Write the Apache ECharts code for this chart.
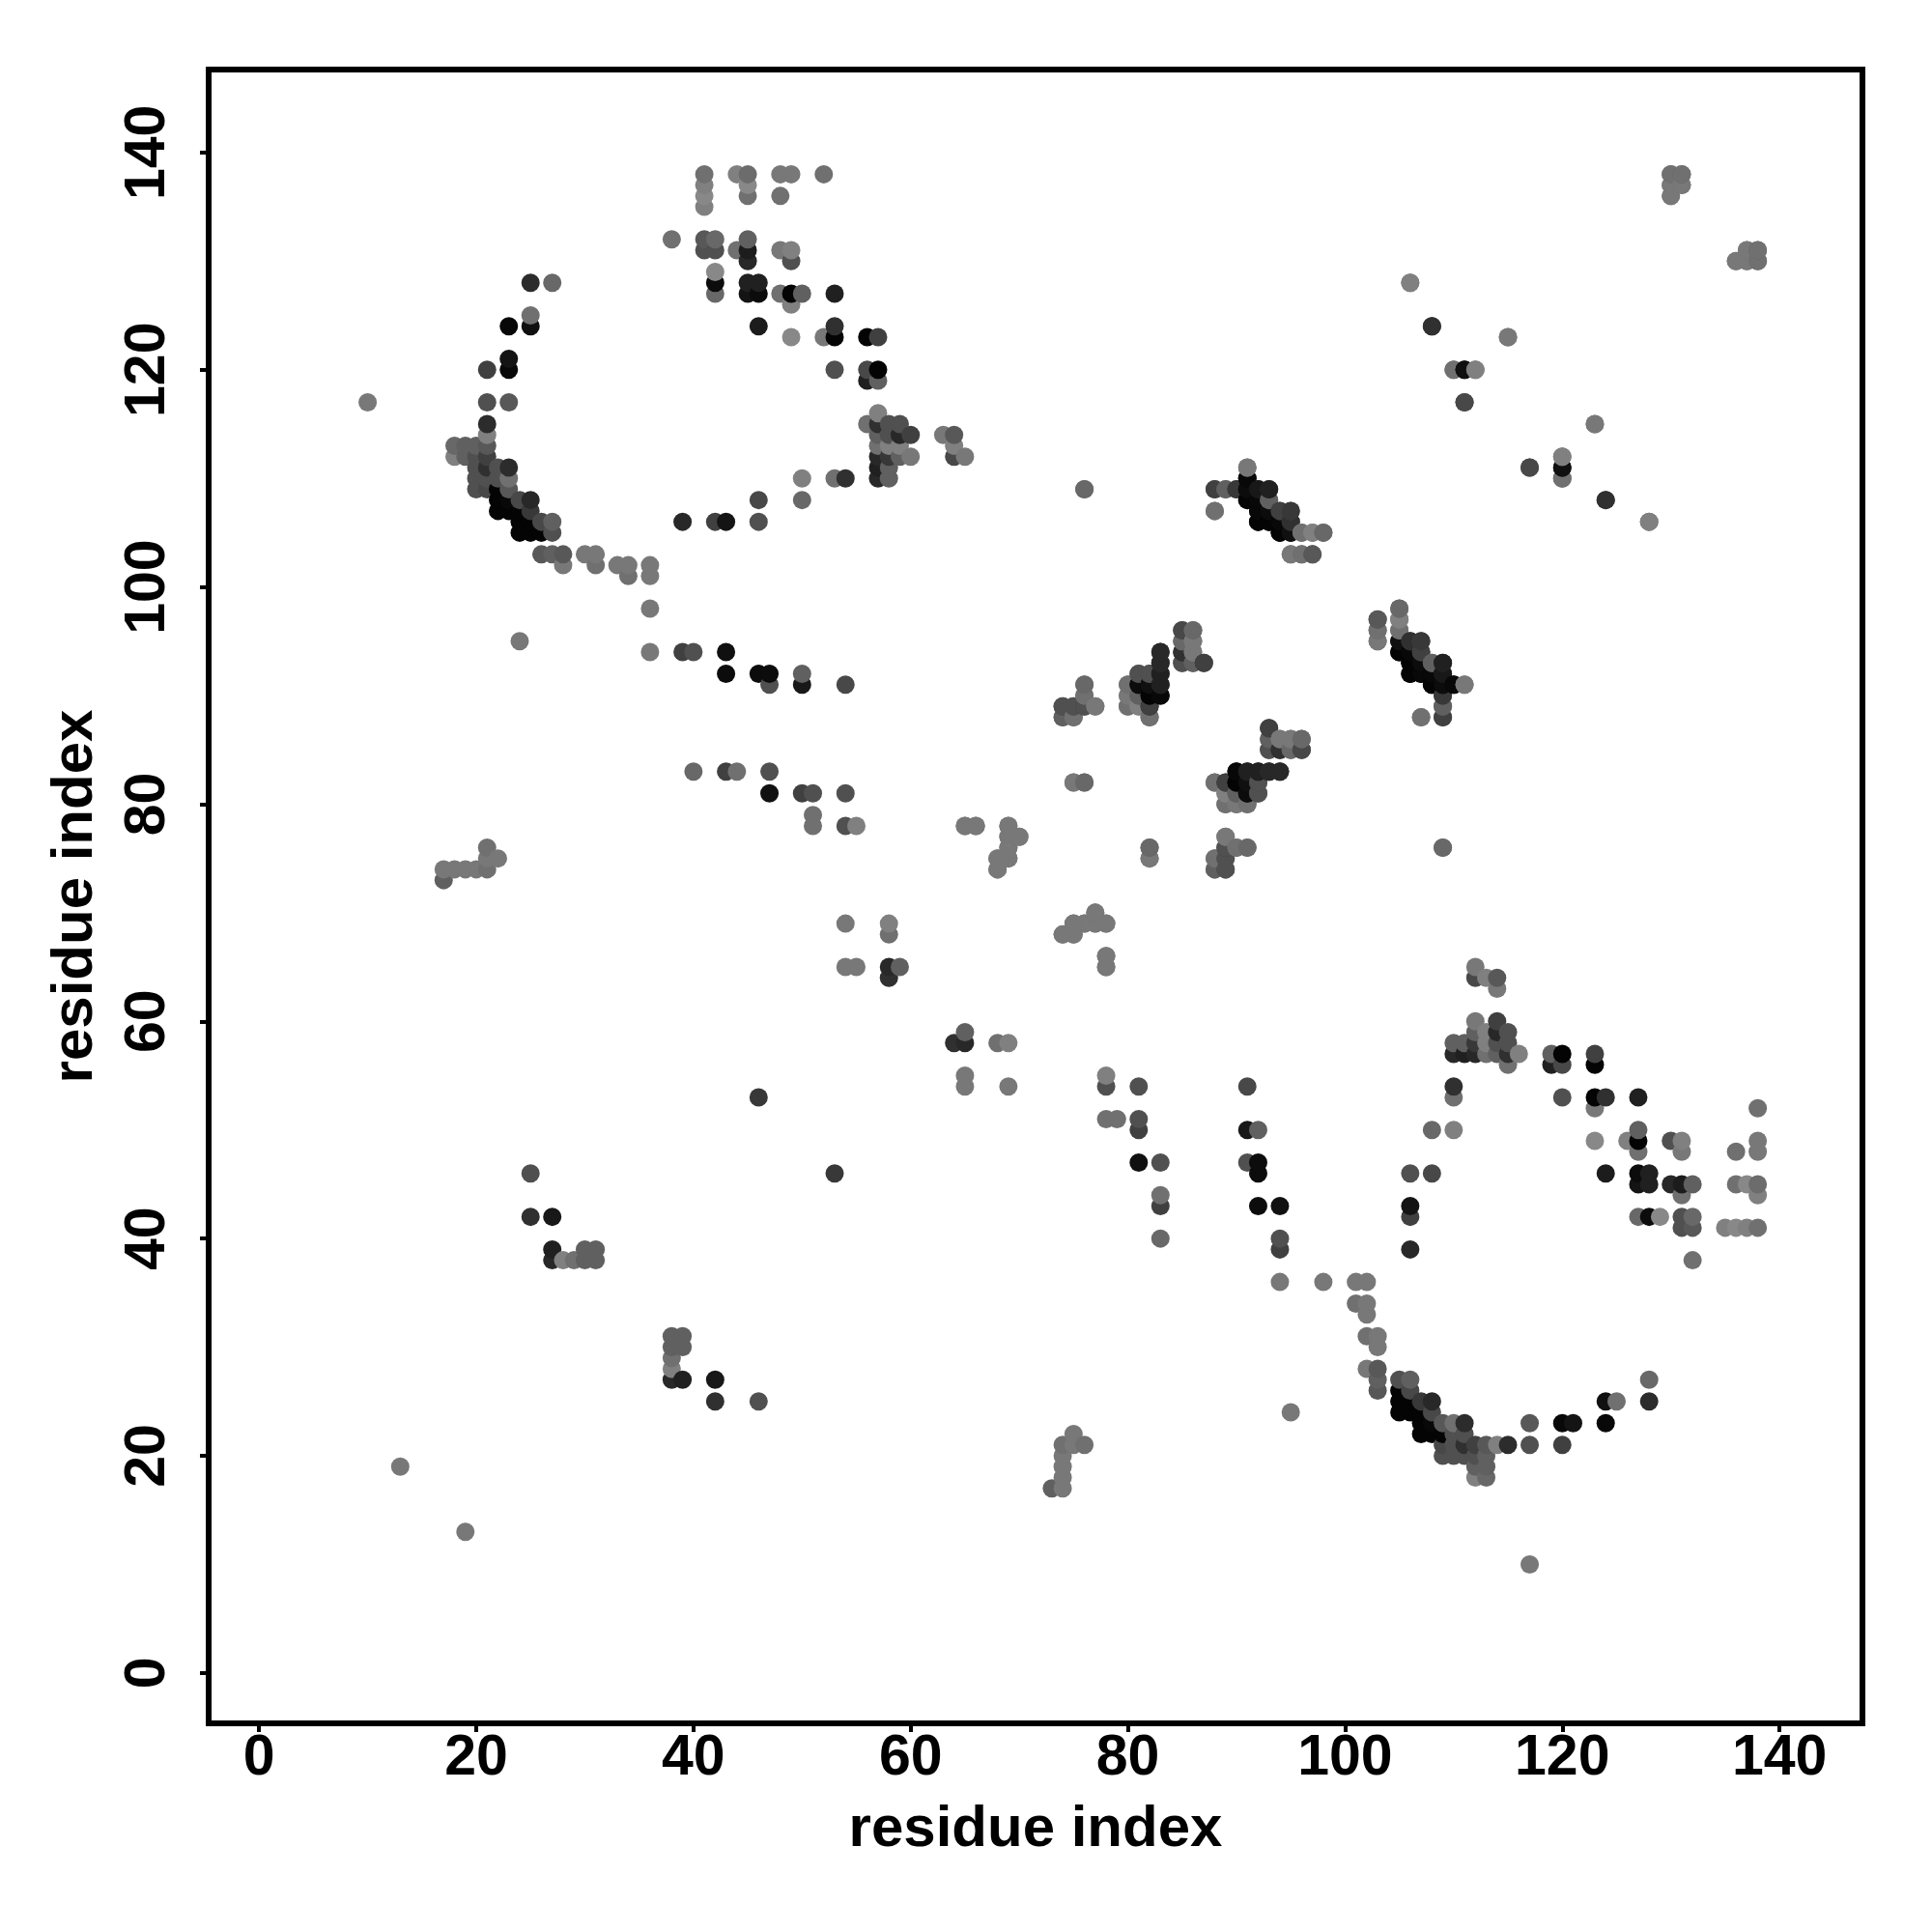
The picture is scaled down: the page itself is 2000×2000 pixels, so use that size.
<!DOCTYPE html>
<html>
<head>
<meta charset="utf-8">
<style>html,body{margin:0;padding:0;background:#fff}#c{width:2000px;height:2000px}</style>
<script src="https://cdn.jsdelivr.net/npm/echarts@6/dist/echarts.min.js"></script>
</head>
<body>
<div id="c"></div>
<script>
// Contacts [i, j, grey level]; the map is symmetric, each contact appears at (i,j) and (j,i).
const axisTicks = [0, 20, 40, 60, 80, 100, 120, 140];
const axisTitle = 'residue index';

const contactsTopArc = [
 [41,138,112],[41,137,128],[41,136,136],[41,135,128],[44,138,128],[45,138,108],[45,137,136],[45,136,112],
 [48,138,120],[49,138,120],[52,138,112],[48,136,112],[38,132,112],[41,132,88],[42,132,104],[45,132,96],
 [41,131,80],[42,131,80],[44,131,112],[45,131,28],[48,131,120],[49,131,128],[45,130,40],[49,130,80],
 [42,129,136],[42,128,12],[45,128,32],[46,128,32],[42,127,104],[45,127,20],[46,127,12],[48,127,112],
 [49,127,4],[50,127,96],[53,127,32],[49,126,128],[46,124,28],[53,124,48],[49,123,136],[52,123,120],
 [53,123,4],[56,123,4],[57,123,64],[53,120,80],[56,120,72],[57,120,4],[56,119,32],[57,119,96]
];
const contactsLeftArc = [
 [25,128,44],[27,128,104],[25,125,112],[23,124,8],[25,124,16],[23,121,20],[21,120,64],[23,120,8],
 [10,117,120],[21,117,80],[23,117,88],[21,115,44],[21,114,128],[18,113,104],[19,113,96],[20,113,96],[21,113,88],
 [18,112,128],[19,112,96],[20,112,80],[21,112,64],[20,111,80],[21,111,48],[22,111,80],[23,111,44],
 [20,110,80],[21,110,80],[22,110,80],[23,110,112],[20,109,80],[21,109,72],[22,109,4],[23,109,88],
 [22,108,4],[23,108,8],[24,108,72],[25,108,40],[22,107,4],[23,107,4],[24,107,4],[25,107,56],
 [24,106,4],[25,106,4],[26,106,72],[27,106,96],[24,105,4],[25,105,4],[26,105,4],[27,105,80],
 [26,103,88],[27,103,96],[28,103,88],[28,102,120],[30,103,120],[31,103,120],[31,102,112],
 [33,102,120],[34,102,120],[34,101,112],[36,102,120],[36,101,120],[36,98,120]
];
const contactsRightColumn = [
 [57,116,128],[56,115,112],[57,115,48],[58,115,80],[59,115,80],[57,114,96],[58,114,80],[59,114,40],[60,114,64],
 [57,113,112],[58,113,128],[59,113,128],[57,112,40],[58,112,56],[59,112,96],[60,112,120],
 [57,111,32],[58,111,96],[57,110,40],[58,110,96],[50,110,128],[53,110,112],[54,110,48],
 [46,108,72],[50,108,104],[39,106,40],[42,106,64],[43,106,20],[46,106,80],
 [63,114,120],[64,114,88],[64,113,128],[64,112,72],[65,112,120]
];
const contactsMiddle = [
 [36,94,120],[24,95,120],[39,94,64],[40,94,80],[43,94,16],[43,92,12],[46,92,12],[47,92,12],[47,91,80],
 [50,92,96],[50,91,24],[54,91,72],[40,83,104],[43,83,64],[44,83,112],[47,83,80],[47,81,16],[50,81,64],
 [51,81,80],[51,79,112],[51,78,112],[54,81,80],[54,78,80],[55,78,128],
 [17,74,120],[17,73,96],[18,74,120],[19,74,120],[20,74,120],[21,74,112],[21,75,120],[21,76,112],[22,75,120],
 [54,69,120],[54,65,120],[55,65,120],[58,69,128],[58,68,112],[58,65,40],[58,64,48],[59,65,96],
 [65,78,120],[66,78,120],[68,75,128],[68,74,120],[69,78,120],[69,77,136],[69,76,120],[69,75,120],[70,77,112],
 [74,68,120],[75,68,120],[75,69,120],[76,69,120],[77,69,120],[77,70,120],[78,69,120],[78,66,120],[78,65,120]
];
const contactsLowerLeft = [
 [25,46,80],[25,42,48],[27,42,24],[27,39,32],[27,38,40],[28,38,128],[29,38,112],[30,38,96],[30,39,96],
 [31,39,96],[31,38,96],[13,19,120],[46,53,56]
];
const contactsCentreA = [
 [76,109,104],[88,109,64],[89,109,96],[90,109,64],[91,111,120],[91,110,8],[91,109,8],[91,108,8],
 [92,109,24],[93,109,40],[93,108,96],[88,107,112],[92,108,4],[92,107,4],[92,106,4],[93,107,4],[93,106,4],
 [94,107,64],[95,107,72],[94,106,4],[95,106,56],[94,105,8],[95,105,12],[96,105,112],[97,105,128],[98,105,104],
 [95,103,120],[96,103,112],[97,103,88]
];
const contactsCentreB = [
 [85,96,80],[86,96,104],[85,95,112],[86,95,128],[85,94,48],[86,94,128],[85,93,80],[86,93,88],[87,93,64],
 [83,94,40],[83,93,48],[83,92,40],[83,91,40],[83,90,12],[81,92,80],[82,92,72],[81,91,12],[82,91,12],
 [82,90,4],[82,89,48],[82,88,96],[81,90,96],[80,91,120],[80,90,120],[80,89,112],[81,89,128],
 [76,91,120],[76,90,112],[74,89,72],[75,89,80],[76,89,56],[77,89,120],[74,88,96],[75,88,112]
];
const contactsCentreC = [
 [103,97,88],[103,96,112],[103,95,120],[105,98,104],[105,97,128],[105,96,112],[105,95,16],[105,94,4],
 [106,95,48],[107,95,56],[106,94,8],[107,94,64],[106,93,4],[106,92,4],[107,93,12],[107,92,8],[108,93,96],
 [109,93,32],[108,92,8],[108,91,4],[109,92,24],[109,91,12],[110,91,8],[111,91,120],[109,90,56],[109,89,96],
 [109,88,64],[107,88,112],[109,76,104]
];
const contactsCentreD = [
 [93,87,64],[93,86,96],[93,85,80],[94,86,120],[95,86,120],[96,86,104],[94,85,48],[95,85,104],[96,85,72],
 [90,83,8],[91,83,32],[92,83,32],[93,83,40],[94,83,40],[88,82,112],[89,82,64],[90,82,4],[91,82,16],[92,82,80],
 [89,81,128],[90,81,96],[91,81,12],[92,81,80],[89,80,112],[90,80,120],[91,80,112],
 [89,77,120],[89,76,80],[90,76,112],[91,76,104],[88,75,112],[89,75,80],[88,74,96],[89,74,80],
 [82,76,104],[82,75,120],[75,82,120],[76,82,104]
];
const contactsUpperRight = [
 [106,128,112],[108,124,40],[111,117,72],[110,120,96],[111,120,8],[112,120,112],[115,123,120],
 [117,111,72],[120,111,16],[120,112,128],[120,110,112],[123,115,120],[124,108,48],[128,106,128],
 [130,138,112],[131,138,96],[130,137,120],[131,137,112],[130,136,112],[136,130,120],[137,131,120],
 [137,130,120],[138,131,112],[138,130,112]
];

const contactGroups = [contactsTopArc, contactsLeftArc, contactsRightColumn, contactsMiddle, contactsLowerLeft,
  contactsCentreA, contactsCentreB, contactsCentreC, contactsCentreD, contactsUpperRight];

const pts = [];
contactGroups.forEach(g => g.forEach(([i, j, s]) => { pts.push([i, j, s]); pts.push([j, i, s]); }));
// Later residues are painted on top of earlier ones, as in the original plot.
pts.sort((a, b) => a[0] - b[0] || a[1] - b[1]);
const data = pts.map(([x, y, s]) => ({ value: [x, y], itemStyle: { color: `rgb(${s},${s},${s})`, opacity: 1 } }));

const font = 'Liberation Sans';
const axisBase = {
  type: 'value', min: -4.64, max: 147.64, name: axisTitle, nameLocation: 'middle',
  nameTextStyle: { fontFamily: font, fontWeight: 'bold', fontSize: 60, color: '#000' },
  axisLine: { show: false, onZero: false },
  axisTick: { show: true, customValues: axisTicks, length: 9, lineStyle: { color: '#000', width: 4 } },
  splitLine: { show: false }
};
const chart = echarts.init(document.getElementById('c'), null, { renderer: 'canvas' });
chart.setOption({
  animation: false,
  backgroundColor: '#fff',
  grid: { left: 216, top: 72, width: 1712, height: 1712, show: true, borderColor: '#000', borderWidth: 6, backgroundColor: 'transparent' },
  xAxis: Object.assign({}, axisBase, {
    nameGap: 80,
    axisLabel: { customValues: axisTicks, margin: 7, fontFamily: font, fontWeight: 'bold', fontSize: 59, color: '#000' }
  }),
  yAxis: Object.assign({}, axisBase, {
    nameGap: 108,
    axisLabel: { customValues: axisTicks, rotate: 90, margin: 33, fontFamily: font, fontWeight: 'bold', fontSize: 59, color: '#000' }
  }),
  series: [{ type: 'scatter', symbol: 'circle', symbolSize: 19, data: data, large: false, progressive: 0, emphasis: { disabled: true }, silent: true, itemStyle: { opacity: 1 } }]
});
</script>
</body>
</html>
